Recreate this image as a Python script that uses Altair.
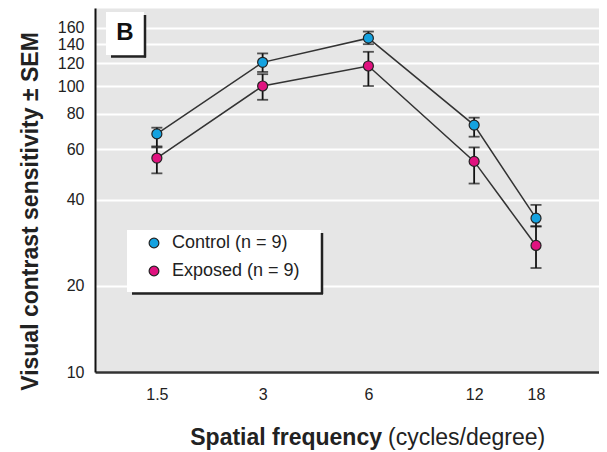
import altair as alt
import pandas as pd

freq = [1.5, 3, 6, 12, 18]
groups = ["Control (n = 9)", "Exposed (n = 9)"]
control_mean = [68, 121, 147, 73, 34.5]
control_lo = [61.5, 112, 140, 66.5, 32.3]
control_hi = [71.5, 130, 155, 77.5, 38.4]
exposed_mean = [56, 100, 117.5, 54.5, 27.7]
exposed_lo = [49.5, 89.5, 100, 45.6, 23.1]
exposed_hi = [61, 110, 131.7, 61, 32.3]
colors = ["#14a2e0", "#e0127f"]
y_ticks = [10, 20, 40, 60, 80, 100, 120, 140, 160]
y_title = "Visual contrast sensitivity ± SEM"

rows = []
for g, m, lo, hi in [(groups[0], control_mean, control_lo, control_hi),
                     (groups[1], exposed_mean, exposed_lo, exposed_hi)]:
    for f, a, b, c in zip(freq, m, lo, hi):
        rows.append({"freq": f, "group": g, "mean": a, "lo": b, "hi": c})
df = pd.DataFrame(rows)

FONT = "Liberation Sans"
xscale = alt.Scale(type="log", domain=[1, 27.2], nice=False)
yscale = alt.Scale(type="log", domain=[10, 187.4], nice=False)

xenc = alt.X("freq:Q", scale=xscale,
             axis=alt.Axis(values=freq, format="~g", grid=False, ticks=False, tickSize=0,
                           domainColor="#333333", domainWidth=2.5, labelFont=FONT,
                           labelFontSize=16, labelColor="#222222", labelPadding=14),
             title=None)
yaxis = alt.Axis(values=y_ticks, format="d", grid=True, gridColor="white", gridWidth=2,
                 ticks=False, tickSize=0, domainColor="#111111", domainWidth=2,
                 labelFont=FONT, labelFontSize=16, labelColor="#222222", labelPadding=11,
                 titleFont=FONT, titleFontSize=23, titleFontWeight="bold", titleColor="#222222",
                 titleAngle=270, titleX=-65, titleY=203, titleAlign="center",
                 titleBaseline="middle")

base = alt.Chart(df)

lines = base.mark_line(color="#333333", strokeWidth=1.5).encode(
    x=xenc,
    y=alt.Y("mean:Q", scale=yscale, axis=yaxis, title=y_title),
    detail="group:N",
)
errs = base.mark_errorbar(color="#111111", thickness=1.8, ticks={"size": 11}).encode(
    x=alt.X("freq:Q", scale=xscale, title=None),
    y=alt.Y("lo:Q", scale=yscale, title=y_title),
    y2="hi:Q",
    detail="group:N",
)
points = base.mark_point(filled=True, size=100, opacity=1, stroke="#222222", strokeWidth=1.2).encode(
    x=alt.X("freq:Q", scale=xscale, title=None),
    y=alt.Y("mean:Q", scale=yscale, title=y_title),
    color=alt.Color("group:N", scale=alt.Scale(domain=groups, range=colors),
                    legend=alt.Legend(title=None, orient="none", legendX=50, legendY=226,
                                      symbolType="circle", symbolSize=95,
                                      symbolStrokeColor="#222222", symbolStrokeWidth=1.2,
                                      labelFont=FONT, labelFontSize=18, labelColor="#222222",
                                      labelOffset=9, rowPadding=10, padding=0)),
)

one = pd.DataFrame({"k": [0]})
ann = alt.Chart(one)
leg_box = ann.mark_rect(fill="white").encode(
    x=alt.value(32), x2=alt.value(226), y=alt.value(222), y2=alt.value(284))
leg_r = ann.mark_rule(color="#222222", strokeWidth=2.5).encode(
    x=alt.value(227), y=alt.value(225), y2=alt.value(286))
leg_b = ann.mark_rule(color="#222222", strokeWidth=2.5).encode(
    x=alt.value(37), x2=alt.value(228), y=alt.value(285.5))
b_box = ann.mark_rect(fill="white").encode(
    x=alt.value(11), x2=alt.value(49), y=alt.value(4), y2=alt.value(47))
b_r = ann.mark_rule(color="#222222", strokeWidth=2.5).encode(
    x=alt.value(50), y=alt.value(7), y2=alt.value(49.5))
b_b = ann.mark_rule(color="#222222", strokeWidth=2.5).encode(
    x=alt.value(16), x2=alt.value(51), y=alt.value(48.5))
b_txt = ann.mark_text(text="B", font=FONT, fontSize=24, fontWeight="bold", color="#111111",
                      align="center", baseline="middle").encode(x=alt.value(30), y=alt.value(25))
xt_bold = ann.mark_text(text="Spatial frequency", font=FONT, fontSize=23, fontWeight="bold",
                        color="#222222", align="right", baseline="middle").encode(
    x=alt.value(287), y=alt.value(430))
xt_reg = ann.mark_text(text="(cycles/degree)", font=FONT, fontSize=23, color="#222222",
                       align="left", baseline="middle").encode(
    x=alt.value(293), y=alt.value(430))

chart = alt.layer(
    leg_box, b_box, lines, errs, points, leg_r, leg_b, b_r, b_b, b_txt, xt_bold, xt_reg
).properties(
    width=504, height=364,
    padding={"left": 87, "top": 0, "right": 0, "bottom": 80},
    autosize=alt.AutoSizeParams(type="none"),
).configure_view(fill="#e6e6e6", strokeOpacity=0)

chart.save("out.html", embed_options={"renderer": "svg", "actions": False})
